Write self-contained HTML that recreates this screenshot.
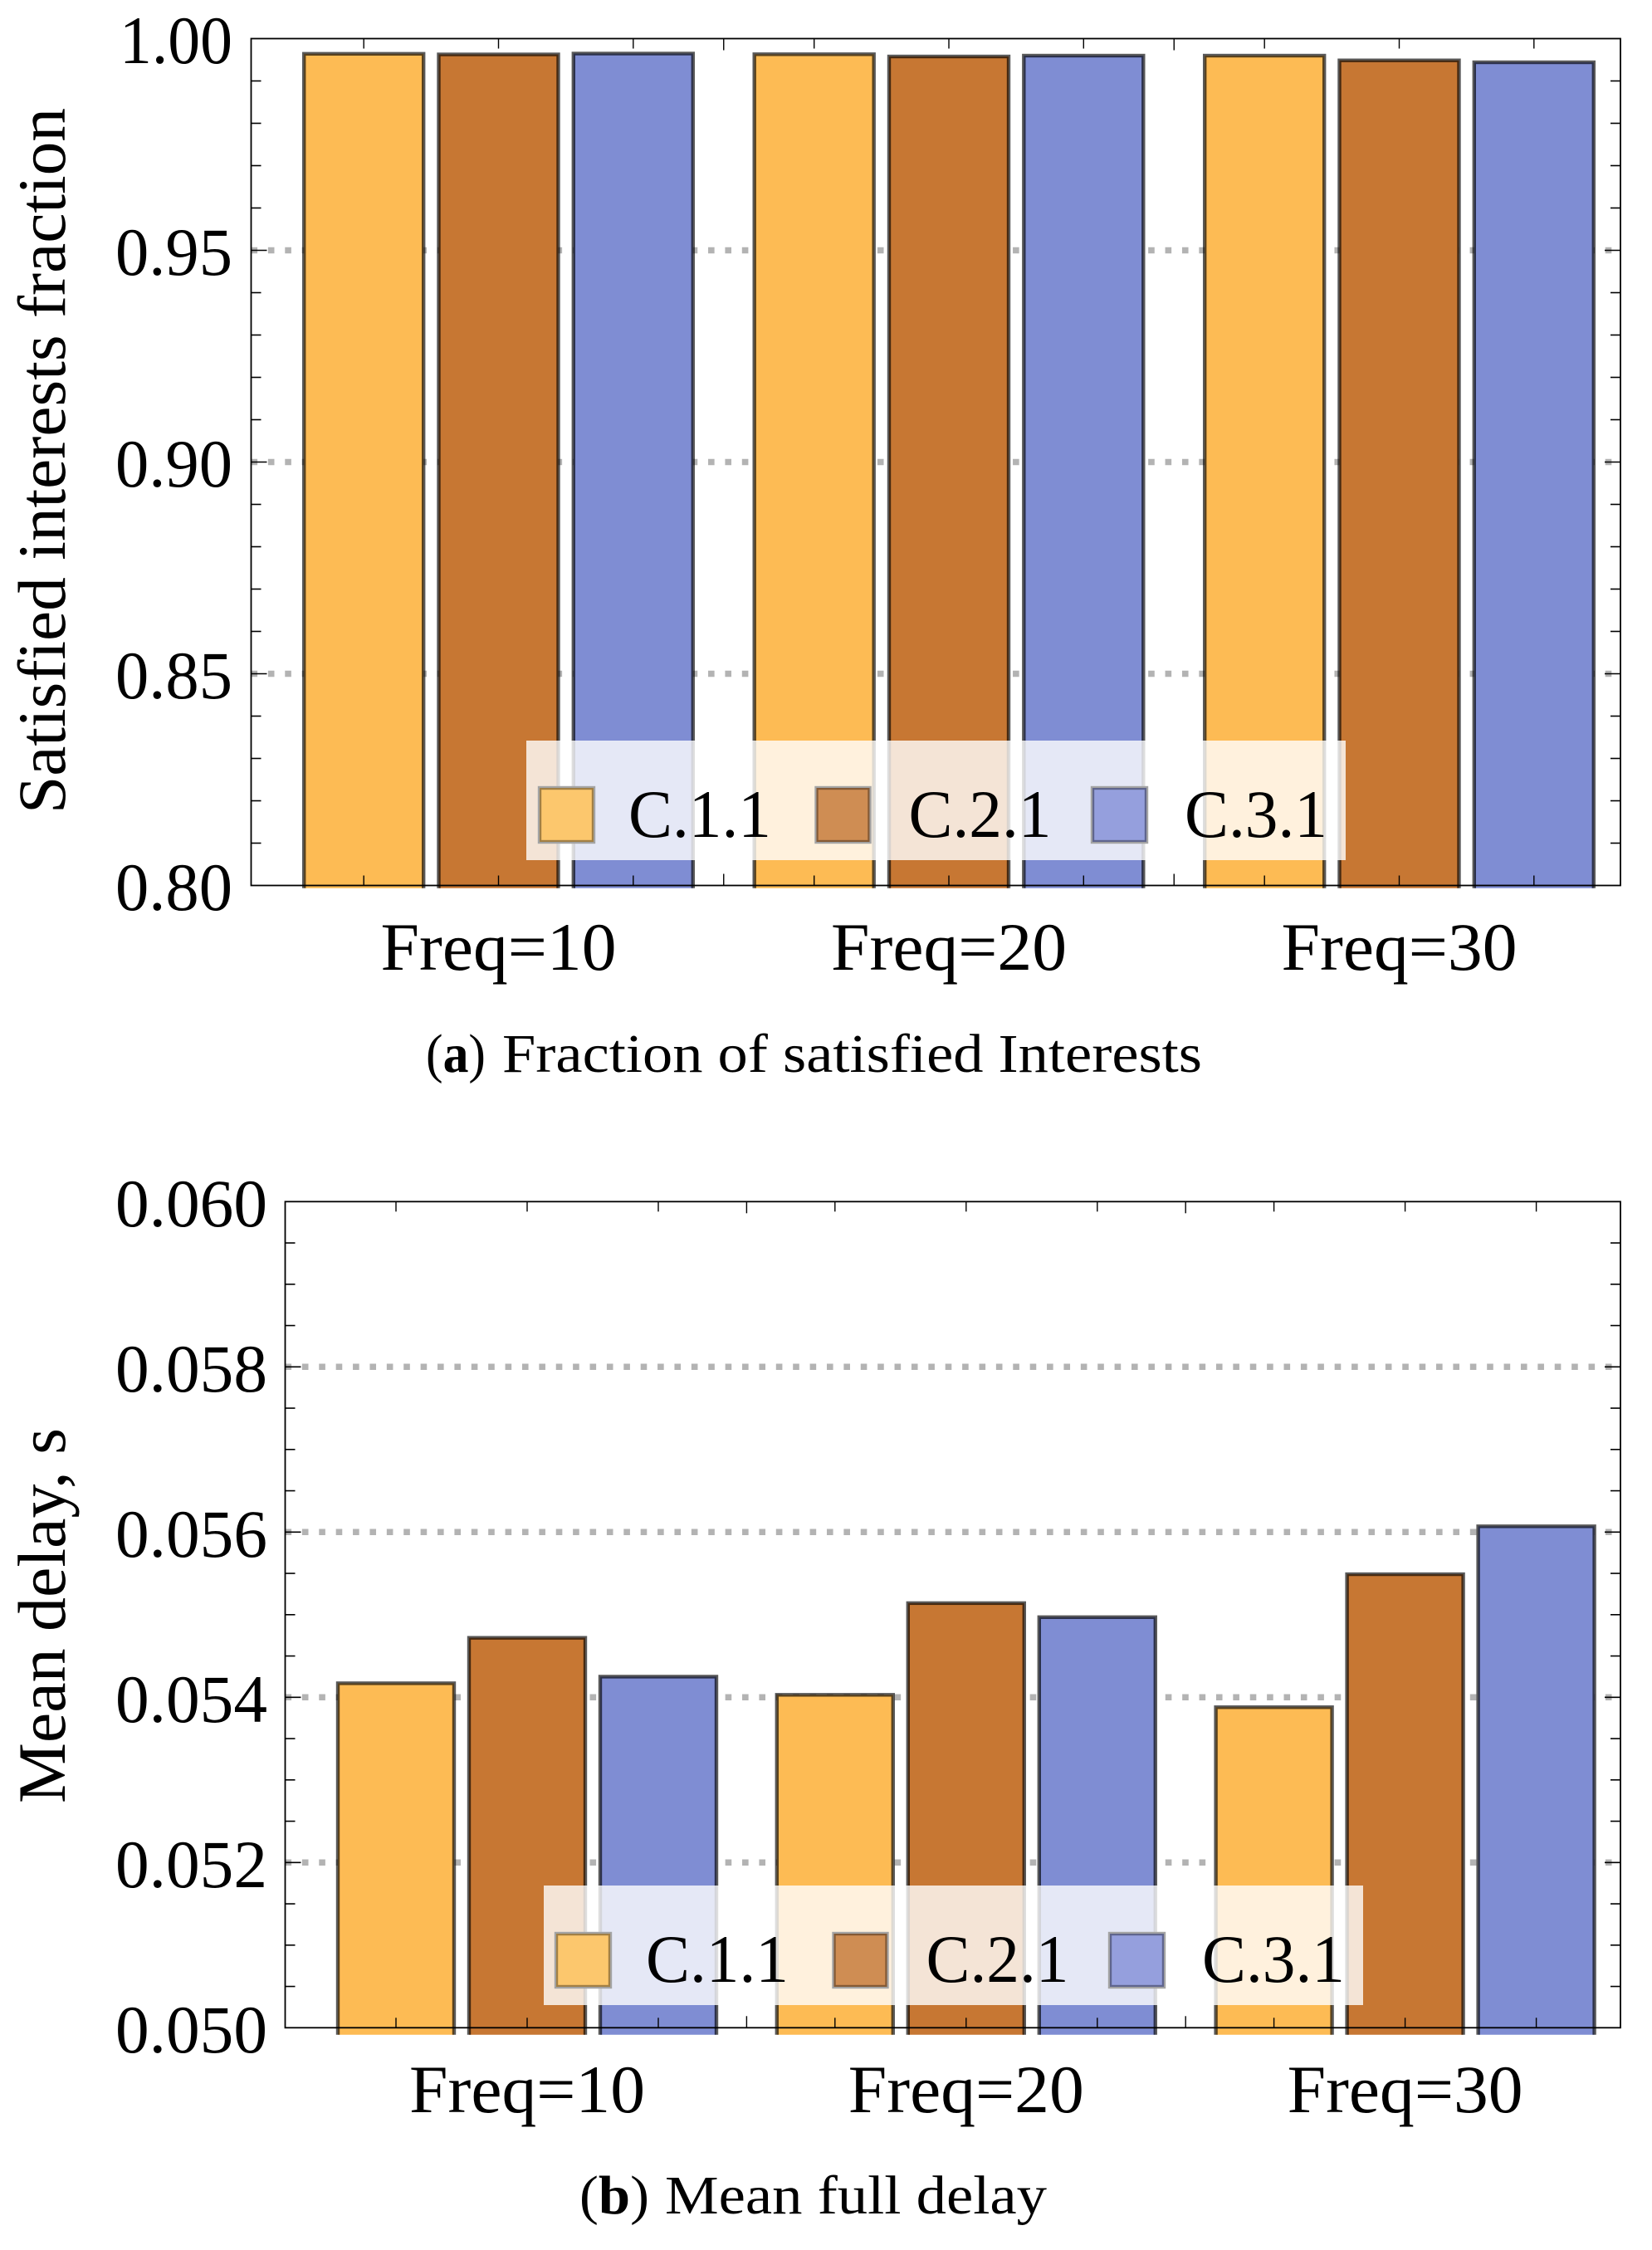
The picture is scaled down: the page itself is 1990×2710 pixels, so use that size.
<!DOCTYPE html>
<html lang="en">
<head>
<meta charset="utf-8">
<title>Satisfied interests and mean delay charts</title>
<style>
html,body{margin:0;padding:0;background:#fff;}
svg{display:block;}
text{font-family:"Liberation Serif",serif;fill:#000;}
</style>
</head>
<body>
<svg id="figure" xmlns="http://www.w3.org/2000/svg" width="1990" height="2710" viewBox="0 0 1990 2710">
  <defs>
    <clipPath id="clip-a"><rect x="300" y="40" width="1660" height="1029.7"/></clipPath>
    <clipPath id="clip-b"><rect x="340" y="1440" width="1620" height="1010.7"/></clipPath>
  </defs>
  <rect x="0" y="0" width="1990" height="2710" fill="#fff"/>

  <g id="panel-a"></g>
  <g>
    <rect x="634" y="892" width="987" height="144" fill="#fff" fill-opacity="0.8"/>
    <rect x="647.8" y="946.8" width="69.4" height="69.4" fill="#fff"/>
    <rect x="650" y="949" width="65" height="65" fill="#fcc76d" stroke="#000" stroke-opacity="0.36" stroke-width="4.4"/>
    <text x="757" y="1008" font-size="82" textLength="172" lengthAdjust="spacingAndGlyphs">C.1.1</text>
    <rect x="981.3" y="946.8" width="68.4" height="69.4" fill="#fff"/>
    <rect x="983.5" y="949" width="64" height="65" fill="#cf8d53" stroke="#000" stroke-opacity="0.36" stroke-width="4.4"/>
    <text x="1094.5" y="1008" font-size="82" textLength="172" lengthAdjust="spacingAndGlyphs">C.2.1</text>
    <rect x="1313.8" y="946.8" width="69.4" height="69.4" fill="#fff"/>
    <rect x="1316" y="949" width="65" height="65" fill="#959fdd" stroke="#000" stroke-opacity="0.36" stroke-width="4.4"/>
    <text x="1427" y="1008" font-size="82" textLength="172" lengthAdjust="spacingAndGlyphs">C.3.1</text>
  </g>
  <text transform="translate(78,980) rotate(-90)" font-size="82" textLength="850" lengthAdjust="spacingAndGlyphs">Satisfied interests fraction</text>
  <text x="513" y="1291" font-size="66" textLength="72" lengthAdjust="spacingAndGlyphs">(<tspan font-weight="bold">a</tspan>)</text>
  <text x="605" y="1291" font-size="66" textLength="843" lengthAdjust="spacingAndGlyphs">Fraction of satisfied Interests</text>

  <g id="panel-b"></g>
  <g>
    <rect x="655" y="2271" width="987" height="144" fill="#fff" fill-opacity="0.8"/>
    <rect x="667.8" y="2326.8" width="69.4" height="68.4" fill="#fff"/>
    <rect x="670" y="2329" width="65" height="64" fill="#fcc76d" stroke="#000" stroke-opacity="0.36" stroke-width="4.4"/>
    <text x="778" y="2387" font-size="82" textLength="172" lengthAdjust="spacingAndGlyphs">C.1.1</text>
    <rect x="1002.3" y="2326.8" width="68.4" height="68.4" fill="#fff"/>
    <rect x="1004.5" y="2329" width="64" height="64" fill="#cf8d53" stroke="#000" stroke-opacity="0.36" stroke-width="4.4"/>
    <text x="1115.5" y="2387" font-size="82" textLength="172" lengthAdjust="spacingAndGlyphs">C.2.1</text>
    <rect x="1334.8" y="2326.8" width="69.4" height="68.4" fill="#fff"/>
    <rect x="1337" y="2329" width="65" height="64" fill="#959fdd" stroke="#000" stroke-opacity="0.36" stroke-width="4.4"/>
    <text x="1448" y="2387" font-size="82" textLength="172" lengthAdjust="spacingAndGlyphs">C.3.1</text>
  </g>
  <text transform="translate(78,2172) rotate(-90)" font-size="82" textLength="452" lengthAdjust="spacingAndGlyphs">Mean delay, s</text>
  <text x="698" y="2666" font-size="66" textLength="84" lengthAdjust="spacingAndGlyphs">(<tspan font-weight="bold">b</tspan>)</text>
  <text x="801" y="2666" font-size="66" textLength="460" lengthAdjust="spacingAndGlyphs">Mean full delay</text>
</svg>

<script>
const categories = ['Freq=10', 'Freq=20', 'Freq=30'];
const seriesNames = ['C.1.1', 'C.2.1', 'C.3.1'];
const seriesColors = ['#fdbb54', '#c77733', '#7f8dd3'];

const fractionC11 = [0.99641, 0.99631, 0.99598];
const fractionC21 = [0.99627, 0.99578, 0.99486];
const fractionC31 = [0.99647, 0.99598, 0.99441];
const fractionTickValues = [1.00, 0.95, 0.90, 0.85, 0.80];
const fractionTickLabels = ['1.00', '0.95', '0.90', '0.85', '0.80'];
const fractionGridValues = [0.95, 0.90, 0.85];

const delayC11 = [0.05417, 0.05403, 0.05388];
const delayC21 = [0.05472, 0.05514, 0.05549];
const delayC31 = [0.05425, 0.05497, 0.05607];
const delayTickValues = [0.060, 0.058, 0.056, 0.054, 0.052, 0.050];
const delayTickLabels = ['0.060', '0.058', '0.056', '0.054', '0.052', '0.050'];
const delayGridValues = [0.058, 0.056, 0.054, 0.052];

const NS = 'http://www.w3.org/2000/svg';

function make(parent, tag, attrs) {
  const el = document.createElementNS(NS, tag);
  for (const k in attrs) el.setAttribute(k, attrs[k]);
  parent.appendChild(el);
  return el;
}

function drawPanel(cfg) {
  const root = document.getElementById(cfg.id);
  const yScale = v => cfg.yTop + (cfg.yMax - v) / (cfg.yMax - cfg.yMin) * (cfg.yBottom - cfg.yTop);
  const groupCenter = i => cfg.firstCenter + i * cfg.groupStep;
  const barCenter = (i, s) => groupCenter(i) + (s - 1) * cfg.barStep;

  // grid
  cfg.grid.forEach(v => {
    const g = make(root, 'line', {
      x1: cfg.xLeft, x2: 1942, y1: yScale(v), y2: yScale(v),
      stroke: '#b3b3b3', 'stroke-width': 7.5, 'stroke-dasharray': '7.6 12.79'
    });
    
    
  });

  // bars
  const bars = make(root, 'g', {'clip-path': 'url(#' + cfg.clip + ')'});
  
  
  cfg.series.forEach((values, s) => {
    values.forEach((v, i) => {
      const y = yScale(v);
      const r = make(bars, 'rect', {
        x: barCenter(i, s) - cfg.barWidth / 2,
        y: y,
        width: cfg.barWidth,
        height: cfg.yBottom + 30 - y,
        fill: seriesColors[s],
        stroke: '#000',
        'stroke-opacity': 0.65,
        'stroke-width': 4.4
      });
      
      
    });
  });

  // frame
  const frame = make(root, 'rect', {
    x: cfg.xLeft, y: cfg.yTop, width: cfg.xRight - cfg.xLeft, height: cfg.yBottom - cfg.yTop,
    fill: 'none', stroke: '#000', 'stroke-width': 1.8
  });
  
  

  // x ticks
  const xTicks = make(root, 'g', {stroke: '#000', 'stroke-width': 1.4});
  
  
  categories.forEach((c, i) => {
    seriesNames.forEach((n, s) => {
      const x = barCenter(i, s);
      make(xTicks, 'line', {x1: x, x2: x, y1: cfg.yTop, y2: cfg.yTop + 12});
      make(xTicks, 'line', {x1: x, x2: x, y1: cfg.yBottom, y2: cfg.yBottom - 12});
    });
    if (i > 0) {
      const x = (groupCenter(i - 1) + groupCenter(i)) / 2;
      make(xTicks, 'line', {x1: x, x2: x, y1: cfg.yTop, y2: cfg.yTop + 14});
      make(xTicks, 'line', {x1: x, x2: x, y1: cfg.yBottom, y2: cfg.yBottom - 14});
    }
  });

  // y ticks
  const yTicks = make(root, 'g', {stroke: '#000', 'stroke-width': 1.6});
  
  
  const count = Math.round((cfg.yMax - cfg.yMin) / cfg.minorStep);
  for (let k = 1; k < count; k++) {
    const v = cfg.yMax - k * cfg.minorStep;
    const len = k % cfg.minorPerMajor === 0 ? 19 : 12;
    const y = yScale(v);
    make(yTicks, 'line', {x1: cfg.xLeft, x2: cfg.xLeft + len, y1: y, y2: y});
    make(yTicks, 'line', {x1: cfg.xRight, x2: cfg.xRight - len, y1: y, y2: y});
  }

  // y labels
  cfg.tickValues.forEach((v, i) => {
    const t = make(root, 'text', {
      x: cfg.labelX + (cfg.tickLabels[i].charAt(0) === '1' ? 5 : 0),
      y: yScale(v) + 29.5,
      'font-size': 82,
      textLength: cfg.labelLength - (cfg.tickLabels[i].charAt(0) === '1' ? 5 : 0),
      lengthAdjust: 'spacingAndGlyphs'
    });
    
    
    t.textContent = cfg.tickLabels[i];
  });

  // x labels
  categories.forEach((c, i) => {
    const t = make(root, 'text', {
      x: groupCenter(i) - 142,
      y: cfg.catY,
      'font-size': 82,
      textLength: 284,
      lengthAdjust: 'spacingAndGlyphs'
    });
    
    
    t.textContent = c;
  });
}

drawPanel({
  id: 'panel-a', clip: 'clip-a',
  xLeft: 302.5, xRight: 1952, yTop: 46.5, yBottom: 1066.5,
  yMax: 1.00, yMin: 0.80, minorStep: 0.01, minorPerMajor: 5,
  firstCenter: 600.5, groupStep: 542.5, barStep: 162.3, barWidth: 144,
  series: [fractionC11, fractionC21, fractionC31],
  tickValues: fractionTickValues, tickLabels: fractionTickLabels, grid: fractionGridValues,
  labelX: 139, labelLength: 141, catY: 1168
});

drawPanel({
  id: 'panel-b', clip: 'clip-b',
  xLeft: 343.5, xRight: 1952, yTop: 1447.3, yBottom: 2442.3,
  yMax: 0.060, yMin: 0.050, minorStep: 0.0005, minorPerMajor: 4,
  firstCenter: 635, groupStep: 528.8, barStep: 158, barWidth: 140,
  series: [delayC11, delayC21, delayC31],
  tickValues: delayTickValues, tickLabels: delayTickLabels, grid: delayGridValues,
  labelX: 139, labelLength: 183, catY: 2544
});
</script>
</body>
</html>
